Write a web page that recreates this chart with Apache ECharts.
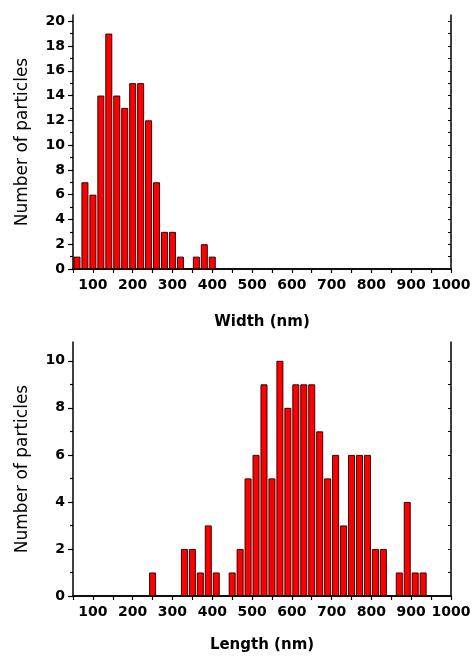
<!DOCTYPE html>
<html>
<head>
<meta charset="utf-8">
<script src="https://cdn.jsdelivr.net/npm/echarts@6/dist/echarts.min.js"></script>
<style>
  html, body { margin: 0; padding: 0; background: #fff; }
  #chart { width: 475px; height: 659px; }
</style>
</head>
<body>
<div id="chart"></div>
<script>
  // bin centres (nm) and particle counts
  var widthBins = [60, 80, 100, 120, 140, 160, 180, 200, 220, 240, 260, 280, 300, 320, 340, 360, 380, 400]
  var widthCounts = [1, 7, 6, 14, 19, 14, 13, 15, 15, 12, 7, 3, 3, 1, 0, 1, 2, 1]

  var lengthBins = [250, 270, 290, 310, 330, 350, 370, 390, 410, 430, 450, 470, 490, 510, 530, 550, 570, 590,
    610, 630, 650, 670, 690, 710, 730, 750, 770, 790, 810, 830, 850, 870, 890, 910, 930]
  var lengthCounts = [1, 0, 0, 0, 2, 2, 1, 3, 1, 0, 1, 2, 5, 6, 9, 5, 10, 8,
    9, 9, 9, 7, 5, 6, 3, 6, 6, 6, 2, 2, 0, 1, 4, 1, 1]

  // tick labels
  var widthMajor = [0, 2, 4, 6, 8, 10, 12, 14, 16, 18, 20]
  var widthMinor = [1, 3, 5, 7, 9, 11, 13, 15, 17, 19]
  var lengthMajor = [0, 2, 4, 6, 8, 10]
  var lengthMinor = [1, 3, 5, 7, 9]

  var FONT = 'DejaVu Sans'

  function pairs(bins, counts) {
    var out = []
    for (var i = 0; i < bins.length; i++) {
      if (counts[i] > 0) out.push([bins[i], counts[i]])
    }
    return out
  }

  function bottomAxis(grid, name, gap) {
    return {
      gridIndex: grid,
      type: 'value',
      position: 'bottom',
      min: 50,
      max: 1000,
      interval: 50,
      name: name,
      nameLocation: 'middle',
      nameGap: gap,
      nameTextStyle: { fontFamily: FONT, fontWeight: 'bold', fontSize: 15, color: '#000' },
      axisLine: { lineStyle: { color: '#000', width: 1.5 } },
      axisTick: { length: 4, lineStyle: { color: '#000', width: 1.2 } },
      axisLabel: {
        margin: 9,
        fontFamily: FONT,
        fontWeight: 'bold',
        fontSize: 14,
        color: '#000',
        formatter: function (v) { return v % 100 === 0 ? v : '' }
      },
      splitLine: { show: false }
    }
  }

  function topAxis(grid) {
    return {
      gridIndex: grid,
      type: 'value',
      position: 'top',
      min: 50,
      max: 1000,
      interval: 50,
      axisLine: { lineStyle: { color: '#000', width: 1.5 } },
      axisTick: { inside: true, length: 3, lineStyle: { color: '#000', width: 1 } },
      axisLabel: { show: false },
      splitLine: { show: false }
    }
  }

  function leftAxis(grid, max, major) {
    return {
      gridIndex: grid,
      type: 'value',
      position: 'left',
      min: 0,
      max: max,
      name: 'Number of particles',
      nameLocation: 'middle',
      nameGap: 42,
      nameTextStyle: { fontFamily: FONT, fontSize: 17, color: '#000' },
      axisLine: { lineStyle: { color: '#000', width: 1.5 } },
      axisTick: { length: 5, customValues: major, lineStyle: { color: '#000', width: 1.2 } },
      axisLabel: { margin: 8, customValues: major, fontFamily: FONT, fontWeight: 'bold', fontSize: 14, color: '#000' },
      splitLine: { show: false }
    }
  }

  function minorAxis(grid, max, minor) {
    return {
      gridIndex: grid,
      type: 'value',
      position: 'left',
      min: 0,
      max: max,
      axisLine: { show: false },
      axisTick: { length: 3, customValues: minor, lineStyle: { color: '#000', width: 1.2 } },
      axisLabel: { show: false },
      splitLine: { show: false }
    }
  }

  function rightAxis(grid, max, ticks) {
    return {
      gridIndex: grid,
      type: 'value',
      position: 'right',
      min: 0,
      max: max,
      axisLine: { show: true, lineStyle: { color: '#000', width: 1.5 } },
      axisTick: { show: true, inside: true, length: 3, customValues: ticks, lineStyle: { color: '#000', width: 1 } },
      axisLabel: { show: false },
      splitLine: { show: false }
    }
  }

  function bars(xi, yi, bins, counts) {
    return {
      type: 'bar',
      xAxisIndex: xi,
      yAxisIndex: yi,
      barWidth: 7,
      silent: true,
      itemStyle: { color: '#ff0000', borderColor: '#3a0000', borderWidth: 1 },
      data: pairs(bins, counts)
    }
  }

  var chart = echarts.init(document.getElementById('chart'))
  chart.setOption({
    animation: false,
    backgroundColor: '#fff',
    grid: [
      { left: 73, right: 24, top: 15, height: 254 },
      { left: 73, right: 24, top: 342, height: 254 }
    ],
    xAxis: [
      bottomAxis(0, 'Width (nm)', 46),
      topAxis(0),
      bottomAxis(1, 'Length (nm)', 42),
      topAxis(1)
    ],
    yAxis: [
      leftAxis(0, 20.5, widthMajor),
      minorAxis(0, 20.5, widthMinor),
      rightAxis(0, 20.5, widthMajor.concat(widthMinor)),
      leftAxis(1, 10.8, lengthMajor),
      minorAxis(1, 10.8, lengthMinor),
      rightAxis(1, 10.8, lengthMajor.concat(lengthMinor))
    ],
    series: [
      bars(0, 0, widthBins, widthCounts),
      bars(2, 3, lengthBins, lengthCounts)
    ]
  })
</script>
</body>
</html>
